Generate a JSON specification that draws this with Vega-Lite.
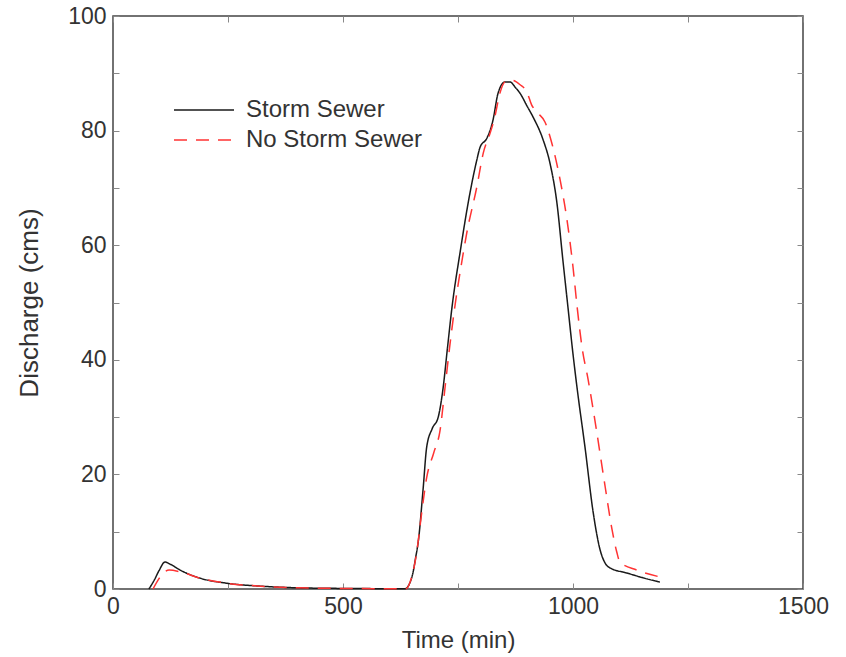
{
  "$schema": "https://vega.github.io/schema/vega-lite/v6.json",
  "width": 690,
  "height": 573,
  "autosize": {"type": "none"},
  "padding": {"left": 113, "top": 16, "right": 43, "bottom": 68},
  "background": "white",
  "config": {
    "view": {"stroke": "#444", "strokeWidth": 1.5},
    "font": "Liberation Sans",
    "axis": {"labelFont": "Liberation Sans", "titleFont": "Liberation Sans", "labelColor": "#333", "titleColor": "#333", "labelFontSize": 23, "titleFontSize": 24, "titleFontWeight": "normal", "grid": false, "domain": false, "tickColor": "#888", "tickSize": -6, "tickWidth": 1}
  },
  "datasets": {
    "flow": [
      {"t": 78, "q": 0, "s": "Storm Sewer"},
      {"t": 90, "q": 1.6, "s": "Storm Sewer"},
      {"t": 100, "q": 3.2, "s": "Storm Sewer"},
      {"t": 113, "q": 4.7, "s": "Storm Sewer"},
      {"t": 125, "q": 4.3, "s": "Storm Sewer"},
      {"t": 146, "q": 3.3, "s": "Storm Sewer"},
      {"t": 189, "q": 1.9, "s": "Storm Sewer"},
      {"t": 248, "q": 1.0, "s": "Storm Sewer"},
      {"t": 320, "q": 0.5, "s": "Storm Sewer"},
      {"t": 406, "q": 0.2, "s": "Storm Sewer"},
      {"t": 500, "q": 0.1, "s": "Storm Sewer"},
      {"t": 635, "q": 0.05, "s": "Storm Sewer"},
      {"t": 645, "q": 1.0, "s": "Storm Sewer"},
      {"t": 652, "q": 2.8, "s": "Storm Sewer"},
      {"t": 658, "q": 5.5, "s": "Storm Sewer"},
      {"t": 664, "q": 8.5, "s": "Storm Sewer"},
      {"t": 674, "q": 17.3, "s": "Storm Sewer"},
      {"t": 682, "q": 24.8, "s": "Storm Sewer"},
      {"t": 694, "q": 28, "s": "Storm Sewer"},
      {"t": 707, "q": 30, "s": "Storm Sewer"},
      {"t": 717, "q": 34.7, "s": "Storm Sewer"},
      {"t": 727, "q": 42, "s": "Storm Sewer"},
      {"t": 737, "q": 49.2, "s": "Storm Sewer"},
      {"t": 755, "q": 59, "s": "Storm Sewer"},
      {"t": 776, "q": 69.1, "s": "Storm Sewer"},
      {"t": 791, "q": 74.9, "s": "Storm Sewer"},
      {"t": 798, "q": 77.1, "s": "Storm Sewer"},
      {"t": 813, "q": 78.7, "s": "Storm Sewer"},
      {"t": 826, "q": 81.8, "s": "Storm Sewer"},
      {"t": 837, "q": 86.5, "s": "Storm Sewer"},
      {"t": 852, "q": 88.5, "s": "Storm Sewer"},
      {"t": 863, "q": 88.5, "s": "Storm Sewer"},
      {"t": 875, "q": 87.5, "s": "Storm Sewer"},
      {"t": 885, "q": 86.5, "s": "Storm Sewer"},
      {"t": 900, "q": 84.3, "s": "Storm Sewer"},
      {"t": 913, "q": 82.4, "s": "Storm Sewer"},
      {"t": 935, "q": 78.4, "s": "Storm Sewer"},
      {"t": 950, "q": 74.3, "s": "Storm Sewer"},
      {"t": 965, "q": 67.4, "s": "Storm Sewer"},
      {"t": 978, "q": 57.4, "s": "Storm Sewer"},
      {"t": 989, "q": 49.2, "s": "Storm Sewer"},
      {"t": 1000, "q": 41, "s": "Storm Sewer"},
      {"t": 1009, "q": 35, "s": "Storm Sewer"},
      {"t": 1026, "q": 24.8, "s": "Storm Sewer"},
      {"t": 1044, "q": 13.3, "s": "Storm Sewer"},
      {"t": 1059, "q": 6.8, "s": "Storm Sewer"},
      {"t": 1070, "q": 4.5, "s": "Storm Sewer"},
      {"t": 1080, "q": 3.7, "s": "Storm Sewer"},
      {"t": 1117, "q": 2.8, "s": "Storm Sewer"},
      {"t": 1150, "q": 2.0, "s": "Storm Sewer"},
      {"t": 1189, "q": 1.2, "s": "Storm Sewer"},
      {"t": 87, "q": 0, "s": "No Storm Sewer"},
      {"t": 100, "q": 1.8, "s": "No Storm Sewer"},
      {"t": 110, "q": 2.8, "s": "No Storm Sewer"},
      {"t": 122, "q": 3.3, "s": "No Storm Sewer"},
      {"t": 146, "q": 3.0, "s": "No Storm Sewer"},
      {"t": 189, "q": 1.9, "s": "No Storm Sewer"},
      {"t": 248, "q": 1.0, "s": "No Storm Sewer"},
      {"t": 320, "q": 0.5, "s": "No Storm Sewer"},
      {"t": 406, "q": 0.2, "s": "No Storm Sewer"},
      {"t": 500, "q": 0.1, "s": "No Storm Sewer"},
      {"t": 637, "q": 0.05, "s": "No Storm Sewer"},
      {"t": 647, "q": 1.5, "s": "No Storm Sewer"},
      {"t": 660, "q": 6.3, "s": "No Storm Sewer"},
      {"t": 671, "q": 13.3, "s": "No Storm Sewer"},
      {"t": 682, "q": 19.5, "s": "No Storm Sewer"},
      {"t": 697, "q": 23.7, "s": "No Storm Sewer"},
      {"t": 711, "q": 27.7, "s": "No Storm Sewer"},
      {"t": 722, "q": 35.3, "s": "No Storm Sewer"},
      {"t": 733, "q": 43, "s": "No Storm Sewer"},
      {"t": 743, "q": 49.2, "s": "No Storm Sewer"},
      {"t": 756, "q": 56, "s": "No Storm Sewer"},
      {"t": 769, "q": 62.1, "s": "No Storm Sewer"},
      {"t": 791, "q": 70.2, "s": "No Storm Sewer"},
      {"t": 805, "q": 76.1, "s": "No Storm Sewer"},
      {"t": 820, "q": 79.6, "s": "No Storm Sewer"},
      {"t": 830, "q": 82.4, "s": "No Storm Sewer"},
      {"t": 841, "q": 86.5, "s": "No Storm Sewer"},
      {"t": 852, "q": 88.5, "s": "No Storm Sewer"},
      {"t": 867, "q": 88.8, "s": "No Storm Sewer"},
      {"t": 885, "q": 88.0, "s": "No Storm Sewer"},
      {"t": 900, "q": 86.7, "s": "No Storm Sewer"},
      {"t": 910, "q": 84.5, "s": "No Storm Sewer"},
      {"t": 922, "q": 83.2, "s": "No Storm Sewer"},
      {"t": 939, "q": 81.5, "s": "No Storm Sewer"},
      {"t": 954, "q": 77.8, "s": "No Storm Sewer"},
      {"t": 972, "q": 71.4, "s": "No Storm Sewer"},
      {"t": 987, "q": 64.4, "s": "No Storm Sewer"},
      {"t": 1000, "q": 56.2, "s": "No Storm Sewer"},
      {"t": 1009, "q": 49.2, "s": "No Storm Sewer"},
      {"t": 1020, "q": 42, "s": "No Storm Sewer"},
      {"t": 1033, "q": 36.5, "s": "No Storm Sewer"},
      {"t": 1052, "q": 27.2, "s": "No Storm Sewer"},
      {"t": 1070, "q": 17.8, "s": "No Storm Sewer"},
      {"t": 1085, "q": 10.3, "s": "No Storm Sewer"},
      {"t": 1095, "q": 6.5, "s": "No Storm Sewer"},
      {"t": 1102, "q": 4.7, "s": "No Storm Sewer"},
      {"t": 1139, "q": 3.3, "s": "No Storm Sewer"},
      {"t": 1189, "q": 2.1, "s": "No Storm Sewer"}
    ]
  },
  "data": {"name": "flow"},
  "layer": [
    {
      "mark": {"type": "line", "strokeWidth": 1.5, "interpolate": "monotone"},
      "encoding": {
        "x": {"field": "t", "type": "quantitative", "scale": {"domain": [0, 1500], "nice": false}, "axis": {"orient": "bottom", "title": "Time (min)", "format": "d", "values": [0, 250, 500, 750, 1000, 1250, 1500], "labelExpr": "datum.value % 500 === 0 ? datum.label : ''", "labelPadding": 12, "titlePadding": 10, "labelFlush": false}},
        "y": {"field": "q", "type": "quantitative", "scale": {"domain": [0, 100], "nice": false}, "axis": {"orient": "left", "title": "Discharge (cms)", "titleFontSize": 26, "format": "d", "values": [0, 10, 20, 30, 40, 50, 60, 70, 80, 90, 100], "labelExpr": "datum.value % 20 === 0 ? datum.label : ''", "labelPadding": 13, "titlePadding": 25, "labelFlush": false}},
        "color": {"field": "s", "type": "nominal", "scale": {"domain": ["Storm Sewer", "No Storm Sewer"], "range": ["#1a1a1a", "#ff3333"]}, "legend": {"title": null, "orient": "none", "legendX": 79, "legendY": 82, "symbolType": "M-4,0H4", "symbolSize": 225, "symbolStrokeWidth": 1.5, "labelFontSize": 24, "labelFont": "Liberation Sans", "labelColor": "#333", "labelOffset": 30, "labelLimit": 400, "rowPadding": 6}},
        "strokeDash": {"field": "s", "type": "nominal", "scale": {"domain": ["Storm Sewer", "No Storm Sewer"], "range": [[1, 0], [13, 9]]}, "legend": {"title": null, "orient": "none", "legendX": 79, "legendY": 82, "symbolType": "M-4,0H4", "symbolSize": 225, "symbolStrokeWidth": 1.5, "labelFontSize": 24, "labelFont": "Liberation Sans", "labelColor": "#333", "labelOffset": 30, "labelLimit": 400, "rowPadding": 6}}
      }
    },
    {
      "mark": {"type": "line", "opacity": 0},
      "encoding": {
        "x": {"field": "t", "type": "quantitative", "axis": {"orient": "top", "title": null, "labels": false, "values": [0, 250, 500, 750, 1000, 1250, 1500]}},
        "y": {"field": "q", "type": "quantitative", "axis": {"orient": "right", "title": null, "labels": false, "values": [0, 10, 20, 30, 40, 50, 60, 70, 80, 90, 100]}},
        "detail": {"field": "s"}
      }
    }
  ],
  "resolve": {"axis": {"x": "independent", "y": "independent"}}
}
